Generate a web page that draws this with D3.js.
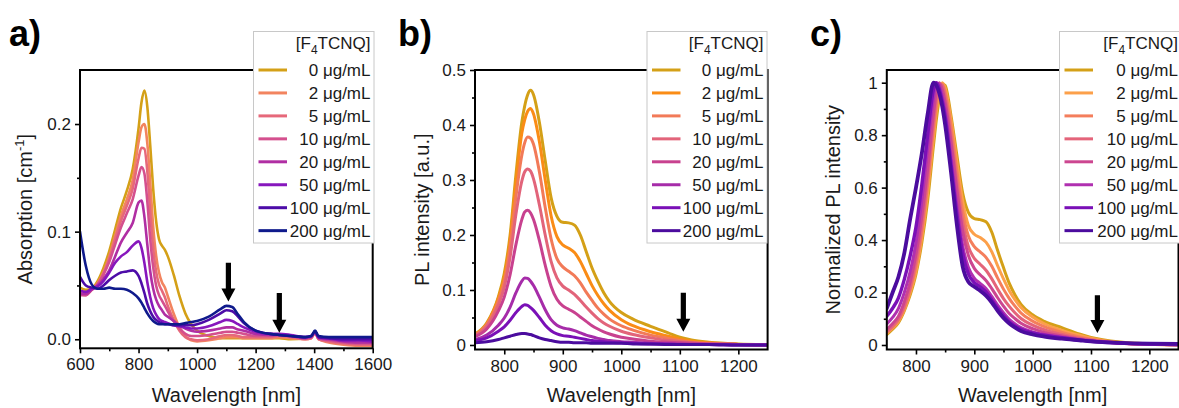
<!DOCTYPE html>
<html><head><meta charset="utf-8">
<script src="https://cdn.jsdelivr.net/npm/d3@7"></script>
<style>
body{margin:0;background:#fff;}
svg{display:block;font-family:"Liberation Sans",Arial,sans-serif;}
</style>
</head><body>
<svg id="chart" width="1179" height="408"></svg>
<script>
// ---------- data ----------
const concLabels = ["0 μg/mL","2 μg/mL","5 μg/mL","10 μg/mL","20 μg/mL","50 μg/mL","100 μg/mL","200 μg/mL"];

// (a) absorption
const absWl = [600,620,640,660,680,700,720,740,760,780,800,810,820,830,840,850,860,870,880,890,900,920,940,960,980,1000,1040,1080,1100,1120,1140,1160,1200,1250,1280,1320,1370,1390,1403,1415,1450,1500,1550,1600];
const abs0 = [0.048,0.046,0.047,0.054,0.066,0.082,0.102,0.122,0.138,0.158,0.196,0.22,0.231,0.216,0.18,0.14,0.11,0.093,0.087,0.083,0.077,0.06,0.04,0.024,0.014,0.008,0.003,0.001,0.001,0.001,0.001,0.001,0.001,0.001,0.001,0.0,0.001,0.002,0.007,0.002,0.0,-0.001,-0.001,-0.002];
const abs2 = [0.043,0.042,0.046,0.052,0.062,0.077,0.096,0.115,0.13,0.148,0.183,0.197,0.2,0.182,0.145,0.105,0.078,0.062,0.053,0.048,0.04,0.024,0.011,0.003,-0.001,-0.002,-0.001,0.001,0.002,0.002,0.002,0.001,0.001,0.001,0.002,0.001,0.0,0.001,0.006,0.0,-0.003,-0.005,-0.006,-0.006];
const abs5 = [0.042,0.041,0.046,0.051,0.061,0.075,0.093,0.11,0.124,0.14,0.168,0.178,0.177,0.156,0.118,0.085,0.063,0.051,0.045,0.039,0.031,0.018,0.008,0.002,0.0,-0.001,0.0,0.003,0.004,0.004,0.003,0.002,0.002,0.002,0.003,0.002,0.0,0.001,0.006,0.0,-0.002,-0.004,-0.005,-0.005];
const abs10 = [0.041,0.041,0.046,0.051,0.06,0.072,0.088,0.104,0.117,0.13,0.152,0.16,0.154,0.128,0.093,0.067,0.05,0.041,0.036,0.031,0.026,0.017,0.01,0.005,0.003,0.003,0.004,0.006,0.007,0.007,0.006,0.005,0.003,0.003,0.004,0.003,0.001,0.002,0.007,0.001,-0.001,-0.003,-0.004,-0.004];
const abs20 = [0.042,0.042,0.046,0.05,0.056,0.064,0.077,0.09,0.099,0.108,0.127,0.129,0.114,0.088,0.063,0.047,0.037,0.031,0.027,0.023,0.021,0.017,0.013,0.01,0.008,0.007,0.008,0.01,0.011,0.011,0.009,0.008,0.005,0.004,0.004,0.003,0.001,0.002,0.007,0.001,0.0,-0.002,-0.003,-0.003];
const abs50 = [0.045,0.044,0.047,0.049,0.054,0.062,0.071,0.077,0.081,0.087,0.091,0.085,0.071,0.053,0.039,0.029,0.023,0.019,0.017,0.016,0.015,0.013,0.012,0.011,0.01,0.01,0.012,0.016,0.018,0.017,0.014,0.011,0.007,0.005,0.005,0.004,0.002,0.003,0.007,0.002,0.001,-0.001,-0.001,-0.002];
const abs100 = [0.058,0.05,0.048,0.047,0.05,0.055,0.059,0.062,0.063,0.064,0.059,0.052,0.043,0.033,0.026,0.021,0.018,0.016,0.015,0.014,0.014,0.013,0.013,0.013,0.013,0.014,0.018,0.024,0.027,0.026,0.021,0.015,0.008,0.005,0.004,0.003,0.002,0.003,0.007,0.002,0.001,0.0,0.0,0.0];
const abs200 = [0.1,0.068,0.051,0.047,0.047,0.048,0.047,0.047,0.046,0.043,0.038,0.034,0.029,0.024,0.02,0.017,0.015,0.014,0.014,0.014,0.014,0.014,0.014,0.015,0.016,0.017,0.021,0.028,0.031,0.03,0.023,0.016,0.008,0.005,0.004,0.003,0.002,0.003,0.008,0.003,0.002,0.002,0.002,0.002];

// (b) PL intensity
const plWl = [750,770,790,800,810,820,830,835,840,845,850,860,870,880,890,900,910,920,930,940,950,960,970,980,1000,1020,1050,1080,1100,1120,1150,1200,1250];
const pl0 = [0.02,0.04,0.088,0.13,0.2,0.31,0.405,0.435,0.455,0.463,0.455,0.405,0.335,0.268,0.234,0.223,0.222,0.218,0.2,0.17,0.14,0.116,0.095,0.079,0.059,0.047,0.034,0.022,0.014,0.009,0.005,0.002,0.001];
const pl2 = [0.019,0.038,0.085,0.122,0.19,0.295,0.385,0.41,0.425,0.43,0.42,0.37,0.3,0.235,0.197,0.182,0.176,0.168,0.152,0.13,0.108,0.09,0.075,0.063,0.046,0.035,0.024,0.016,0.011,0.007,0.004,0.001,0.0];
const pl5 = [0.018,0.037,0.08,0.115,0.178,0.27,0.345,0.368,0.378,0.376,0.365,0.315,0.25,0.193,0.157,0.142,0.134,0.126,0.113,0.096,0.081,0.067,0.056,0.047,0.035,0.027,0.018,0.012,0.008,0.005,0.003,0.001,0.0];
const pl10 = [0.017,0.034,0.073,0.105,0.16,0.238,0.298,0.315,0.32,0.316,0.302,0.255,0.2,0.152,0.122,0.107,0.1,0.092,0.081,0.069,0.058,0.048,0.04,0.034,0.025,0.019,0.013,0.008,0.006,0.004,0.002,0.001,0.0];
const pl20 = [0.015,0.029,0.062,0.087,0.128,0.183,0.228,0.242,0.245,0.24,0.228,0.19,0.145,0.107,0.083,0.071,0.065,0.059,0.051,0.043,0.035,0.029,0.024,0.02,0.014,0.011,0.007,0.005,0.004,0.003,0.002,0.001,0.0];
const pl50 = [0.01,0.018,0.036,0.049,0.069,0.095,0.116,0.122,0.121,0.116,0.108,0.087,0.064,0.046,0.036,0.031,0.029,0.026,0.022,0.018,0.015,0.012,0.01,0.008,0.006,0.005,0.003,0.002,0.002,0.001,0.001,0.0,0.0];
const pl100 = [0.008,0.013,0.025,0.033,0.045,0.059,0.07,0.073,0.072,0.068,0.063,0.05,0.036,0.026,0.02,0.017,0.016,0.014,0.012,0.01,0.008,0.007,0.006,0.005,0.004,0.003,0.002,0.002,0.001,0.001,0.001,0.0,0.0];
const pl200 = [0.004,0.006,0.01,0.013,0.016,0.019,0.021,0.021,0.02,0.019,0.017,0.013,0.01,0.008,0.006,0.005,0.005,0.004,0.004,0.004,0.003,0.003,0.003,0.003,0.003,0.002,0.002,0.001,0.001,0.001,0.001,0.0,0.0];

// (c) normalized PL
const normWl = [750,760,770,780,790,800,810,820,830,835,840,845,850,860,870,880,890,900,910,920,930,940,950,960,970,980,1000,1020,1050,1080,1100,1120,1150,1200,1250];
const norm0 = [0.04,0.06,0.085,0.13,0.19,0.27,0.39,0.55,0.76,0.86,0.94,0.995,0.99,0.875,0.725,0.58,0.505,0.482,0.478,0.47,0.43,0.36,0.295,0.235,0.19,0.155,0.115,0.09,0.066,0.042,0.029,0.02,0.011,0.004,0.001];
const norm2 = [0.045,0.065,0.09,0.135,0.2,0.28,0.41,0.58,0.79,0.89,0.965,1.0,0.98,0.86,0.7,0.55,0.455,0.422,0.41,0.392,0.355,0.302,0.252,0.207,0.172,0.143,0.107,0.081,0.056,0.037,0.026,0.017,0.009,0.003,0.001];
const norm5 = [0.048,0.068,0.095,0.14,0.21,0.3,0.43,0.61,0.82,0.91,0.98,0.995,0.965,0.835,0.665,0.51,0.415,0.375,0.355,0.334,0.3,0.255,0.213,0.177,0.147,0.122,0.091,0.07,0.048,0.031,0.022,0.015,0.008,0.003,0.001];
const norm10 = [0.052,0.073,0.1,0.15,0.22,0.32,0.455,0.635,0.85,0.94,0.995,0.99,0.945,0.8,0.625,0.47,0.375,0.33,0.308,0.285,0.252,0.213,0.177,0.147,0.122,0.101,0.076,0.058,0.04,0.026,0.019,0.013,0.007,0.003,0.001];
const norm20 = [0.06,0.082,0.11,0.165,0.24,0.345,0.49,0.67,0.88,0.965,1.0,0.975,0.925,0.775,0.595,0.435,0.34,0.292,0.268,0.246,0.215,0.18,0.148,0.12,0.1,0.083,0.062,0.048,0.034,0.023,0.017,0.012,0.007,0.003,0.001];
const norm50 = [0.08,0.105,0.14,0.2,0.28,0.39,0.55,0.75,0.94,1.0,0.99,0.95,0.895,0.72,0.535,0.38,0.295,0.255,0.235,0.215,0.185,0.152,0.123,0.098,0.08,0.066,0.05,0.04,0.03,0.02,0.015,0.011,0.007,0.003,0.001];
const norm100 = [0.11,0.14,0.18,0.25,0.34,0.45,0.61,0.8,0.975,1.0,0.975,0.93,0.87,0.69,0.5,0.35,0.27,0.238,0.222,0.202,0.172,0.14,0.112,0.088,0.072,0.06,0.046,0.037,0.028,0.019,0.014,0.011,0.007,0.004,0.002];
const norm200 = [0.14,0.2,0.26,0.35,0.48,0.6,0.73,0.88,1.0,0.99,0.96,0.91,0.84,0.66,0.46,0.3,0.24,0.222,0.207,0.188,0.162,0.13,0.103,0.082,0.066,0.053,0.04,0.032,0.024,0.018,0.014,0.011,0.008,0.005,0.004];

// tick values
const xTicksA = [600,800,1000,1200,1400,1600];
const xMinorA = [700,900,1100,1300,1500];
const yTicksA = [0,0.1,0.2];
const yMinorA = [0.05,0.15];
const xTicksPL = [800,900,1000,1100,1200];
const xMinorPL = [850,950,1050,1150];
const yTicksB = [0,0.1,0.2,0.3,0.4,0.5];
const yMinorB = [0.05,0.15,0.25,0.35,0.45];
const yTicksC = [0,0.2,0.4,0.6,0.8,1];
const yMinorC = [0.1,0.3,0.5,0.7,0.9];

// arrows (wavelength, top value, tip value)
const arrowsA = [[1107,0.071,0.035],[1281,0.043,0.006]];
const arrowsB = [[1106,0.095,0.024]];
const arrowsC = [[1111,0.19,0.046]];

// colours
const colA = ["#d4a017","#f2845f","#e6687a","#d4508e","#b02ea3","#8717bd","#4d0ca8","#0f1a8c"];
const colB = ["#d4a017","#fa8c16","#f27a58","#e2647a","#c8418f","#a62ca9","#7a10b7","#4b0c9e"];
const colC = ["#d4a017","#fca04a","#f47e5c","#e4647a","#cc4690","#b030b0","#7a10b7","#4b0c9e"];

// ---------- drawing ----------
const svg = d3.select("#chart");
const TXT = "#1a1a1a";

function drawPanel(p) {
  const x = d3.scaleLinear().domain(p.xDomain).range([p.left, p.right]);
  const y = d3.scaleLinear().domain(p.yDomain).range([p.bottom, p.top]);
  const g = svg.append("g");
  const clipId = "clip" + p.id;
  svg.append("clipPath").attr("id", clipId).append("rect")
    .attr("x", p.left).attr("y", p.top).attr("width", p.right - p.left).attr("height", p.bottom - p.top);

  const line = d3.line().x(d => x(d[0])).y(d => y(d[1])).curve(d3.curveMonotoneX);
  const lg = g.append("g").attr("clip-path", `url(#${clipId})`);
  p.series.forEach((s, i) => {
    lg.append("path").datum(p.wl.map((w, k) => [w, s[k]]))
      .attr("d", line).attr("fill", "none")
      .attr("stroke", p.colors[i]).attr("stroke-width", p.sw[i])
      .attr("stroke-linejoin", "round").attr("stroke-linecap", "round");
  });

  // frame
  g.append("rect").attr("x", p.left).attr("y", p.top)
    .attr("width", p.right - p.left).attr("height", p.bottom - p.top)
    .attr("fill", "none").attr("stroke", "#000").attr("stroke-width", 2);

  // axes
  const xa = g.append("g").attr("transform", `translate(0,${p.bottom})`)
    .call(d3.axisBottom(x).tickValues(p.xTicks).tickSize(5).tickPadding(5).tickFormat(d3.format("d")));
  const xm = g.append("g").attr("transform", `translate(0,${p.bottom})`)
    .call(d3.axisBottom(x).tickValues(p.xMinor).tickSize(3).tickFormat(""));
  const ya = g.append("g").attr("transform", `translate(${p.left},0)`)
    .call(d3.axisLeft(y).tickValues(p.yTicks).tickSize(5).tickPadding(4).tickFormat(p.yFmt));
  const ym = g.append("g").attr("transform", `translate(${p.left},0)`)
    .call(d3.axisLeft(y).tickValues(p.yMinor).tickSize(3).tickFormat(""));
  [xa, xm, ya, ym].forEach(a => {
    a.select(".domain").remove();
    a.selectAll("line").attr("stroke", "#000").attr("stroke-width", 1.6);
    a.selectAll("text").attr("fill", TXT).attr("font-size", 17)
      .attr("font-family", '"Liberation Sans", Arial, sans-serif');
  });

  // arrows
  p.arrows.forEach(a => {
    const ax = x(a[0]), yt = y(a[1]), yp = y(a[2]);
    const hh = 13, hw = 7, sw = 2.6;
    g.append("path")
      .attr("d", `M${ax - sw},${yt} L${ax + sw},${yt} L${ax + sw},${yp - hh} L${ax + hw},${yp - hh} L${ax},${yp} L${ax - hw},${yp - hh} L${ax - sw},${yp - hh} Z`)
      .attr("fill", "#000");
  });

  // axis titles
  const xt = g.append("text").attr("x", (p.left + p.right) / 2).attr("y", 402)
    .attr("text-anchor", "middle").attr("font-size", 20).attr("fill", TXT).text("Wavelength [nm]");
  const yt = g.append("text")
    .attr("transform", `translate(${p.yTitleX},${(p.top + p.bottom) / 2}) rotate(-90)`)
    .attr("text-anchor", "middle").attr("font-size", 20).attr("fill", TXT);
  p.yTitle(yt);

  // panel label
  g.append("text").attr("x", p.labelX).attr("y", 46).attr("font-size", 36)
    .attr("font-weight", "bold").attr("fill", "#000").text(p.label);

  // legend
  const L = p.legend;
  g.append("rect").attr("x", L.x).attr("y", 31.5).attr("width", L.w).attr("height", 211.5)
    .attr("fill", "#fff").attr("stroke", "#c8c8c8").attr("stroke-width", 1);
  const tEnd = L.x + L.w - 3.5;
  const title = g.append("text").attr("x", tEnd).attr("y", 49).attr("text-anchor", "end")
    .attr("font-size", 17).attr("fill", TXT);
  title.append("tspan").text("[F");
  title.append("tspan").attr("font-size", 12).attr("dy", 5).text("4");
  title.append("tspan").attr("dy", -5).text("TCNQ]");
  concLabels.forEach((lab, i) => {
    const yy = 70 + i * 22.95;
    g.append("line").attr("x1", L.x + 5).attr("x2", L.x + 33.5).attr("y1", yy).attr("y2", yy)
      .attr("stroke", p.colors[i]).attr("stroke-width", 3);
    g.append("text").attr("x", tEnd).attr("y", yy).attr("dy", "0.36em").attr("text-anchor", "end")
      .attr("font-size", 17).attr("fill", TXT).text(lab);
  });
}

const fmtA = d3.format(".1f");
const fmtB = d => d === 0 ? "0" : d3.format(".1f")(d);
const fmtC = d => String(+d.toFixed(1));

drawPanel({
  id: "a", left: 80, right: 372.7, top: 70, bottom: 348.3,
  xDomain: [600, 1600], yDomain: [-0.0084, 0.2502],
  wl: absWl, series: [abs0, abs2, abs5, abs10, abs20, abs50, abs100, abs200],
  colors: colA, sw: [2.6,2.6,2.6,2.6,2.6,2.6,2.6,2.6],
  xTicks: xTicksA, xMinor: xMinorA, yTicks: yTicksA, yMinor: yMinorA, yFmt: fmtA,
  arrows: arrowsA, label: "a)", labelX: 9, yTitleX: 32,
  yTitle: t => { t.append("tspan").text("Absorption [cm");
                 t.append("tspan").attr("font-size", 13).attr("dy", -8).text("-1");
                 t.append("tspan").attr("dy", 8).text("]"); },
  legend: { x: 253.5, w: 120.5 }
});

drawPanel({
  id: "b", left: 475, right: 767.6, top: 70, bottom: 349.5,
  xDomain: [750, 1250], yDomain: [-0.0082, 0.5],
  wl: plWl, series: [pl0, pl2, pl5, pl10, pl20, pl50, pl100, pl200],
  colors: colB, sw: [3,3,3,3,3,3,3,3],
  xTicks: xTicksPL, xMinor: xMinorPL, yTicks: yTicksB, yMinor: yMinorB, yFmt: fmtB,
  arrows: arrowsB, label: "b)", labelX: 398, yTitleX: 429,
  yTitle: t => t.text("PL intensity [a.u.]"),
  legend: { x: 647, w: 120 }
});

drawPanel({
  id: "c", left: 886.8, right: 1178.5, top: 70, bottom: 349.5,
  xDomain: [750, 1250], yDomain: [-0.0172, 1.0484],
  wl: normWl, series: [norm0, norm2, norm5, norm10, norm20, norm50, norm100, norm200],
  colors: colC, sw: [3,3,3,3,3,3,3.4,3.8],
  xTicks: xTicksPL, xMinor: xMinorPL, yTicks: yTicksC, yMinor: yMinorC, yFmt: fmtC,
  arrows: arrowsC, label: "c)", labelX: 810, yTitleX: 840,
  yTitle: t => t.text("Normalized PL intensity"),
  legend: { x: 1059.5, w: 122 }
});
</script>
</body></html>
